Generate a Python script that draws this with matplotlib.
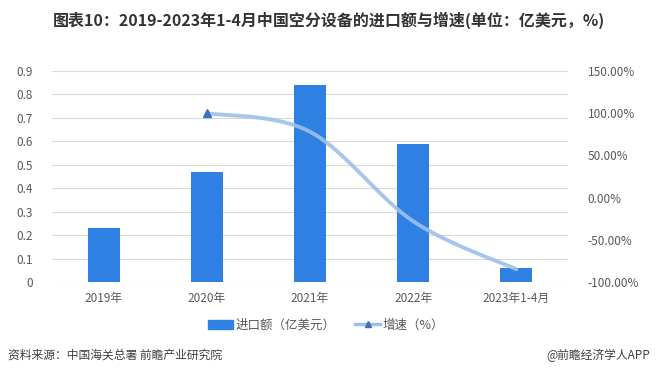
import numpy as np
import matplotlib
matplotlib.use('Agg')
import matplotlib.pyplot as plt
from matplotlib.lines import Line2D
from matplotlib.patches import Patch

plt.rcParams['font.family'] = ['Noto Sans CJK SC', 'DejaVu Sans']

# данные
years = ['2019年', '2020年', '2021年', '2022年', '2023年1-4月']
import_val = [0.23, 0.47, 0.84, 0.59, 0.06]          # 亿美元
growth = [None, 100.0, 78.0, -28.0, -85.0]            # %
left_ticks = [0, 0.1, 0.2, 0.3, 0.4, 0.5, 0.6, 0.7, 0.8, 0.9]
right_ticks = [-100, -50, 0, 50, 100, 150]

bar_color = '#2E80E3'
line_color = '#9DC0EA'
marker_color = '#3E6FC0'
grid_color = '#D9D9D9'
txt_color = '#595959'


def smooth(xs, ys, n=40):
    # сглаженная линия как в Excel (Catmull-Rom)
    px, py = [], []
    for i in range(len(xs) - 1):
        x0, y0 = (xs[i - 1], ys[i - 1]) if i > 0 else (xs[i], ys[i])
        x1, y1 = xs[i], ys[i]
        x2, y2 = xs[i + 1], ys[i + 1]
        x3, y3 = (xs[i + 2], ys[i + 2]) if i + 2 < len(xs) else (x2, y2)
        c1 = (x1 + (x2 - x0) / 6, y1 + (y2 - y0) / 6)
        c2 = (x2 - (x3 - x1) / 6, y2 - (y3 - y1) / 6)
        t = np.linspace(0, 1, n)
        bx = (1-t)**3*x1 + 3*(1-t)**2*t*c1[0] + 3*(1-t)*t**2*c2[0] + t**3*x2
        by = (1-t)**3*y1 + 3*(1-t)**2*t*c1[1] + 3*(1-t)*t**2*c2[1] + t**3*y2
        px.extend(bx)
        py.extend(by)
    return px, py


fig = plt.figure(figsize=(6.57, 3.80), dpi=100)
ax = fig.add_axes([52/657, 98/380, 516/657, 211/380])
ax2 = ax.twinx()

x = np.arange(len(years))
ax.bar(x, import_val, width=0.31, color=bar_color, zorder=3)
ax.set_xlim(-0.5, len(years) - 0.5)
ax.set_ylim(0, 0.9)
ax.set_yticks(left_ticks)
ax.set_yticklabels(['0' if v == 0 else f'{v:.1f}' for v in left_ticks])
ax.set_xticks(x)
ax.set_xticklabels(years)
ax.grid(axis='y', color=grid_color, linewidth=0.8, zorder=0)
ax.set_axisbelow(True)

gx = [i for i, g in enumerate(growth) if g is not None]
gy = [g for g in growth if g is not None]
sx, sy = smooth(gx, gy)
ax2.plot(sx, sy, color=line_color, linewidth=2.8, alpha=0.9, solid_capstyle='round', zorder=4)
ax2.plot(gx[0], gy[0], marker='^', markersize=6, color=marker_color, linestyle='none', zorder=5)
ax2.set_ylim(-100, 150)
ax2.set_yticks(right_ticks)
ax2.set_yticklabels([f'{v:.2f}%' for v in right_ticks])

for a in (ax, ax2):
    for s in a.spines.values():
        s.set_visible(False)
    a.tick_params(length=0, labelsize=8.5, colors=txt_color)
ax.tick_params(axis='y', pad=14)
ax.tick_params(axis='x', pad=7)
ax2.tick_params(axis='y', pad=14)

handles = [Patch(color=bar_color),
           Line2D([], [], color=line_color, linewidth=2.5, marker='^',
                  markersize=5, markerfacecolor=marker_color, markeredgecolor=marker_color)]
fig.legend(handles, ['进口额（亿美元）', '增速（%）'], loc='center',
           bbox_to_anchor=(326/657, 1 - 325/380), ncol=2, frameon=False,
           fontsize=9, handlelength=2.0, handletextpad=0.2, columnspacing=1.6,
           labelcolor=txt_color)

fig.text(0.5, 1 - 20/380, '图表10：2019-2023年1-4月中国空分设备的进口额与增速(单位：亿美元，%)',
         ha='center', va='center', fontsize=11.5, fontweight='bold', color='#333333')
fig.text(8/657, 1 - 355/380, '资料来源：中国海关总署 前瞻产业研究院', ha='left', va='center',
         fontsize=8.5, color='#404040')
fig.text(650/657, 1 - 355/380, '@前瞻经济学人APP', ha='right', va='center',
         fontsize=8.5, color='#404040')

fig.savefig('out.png', dpi=100)
